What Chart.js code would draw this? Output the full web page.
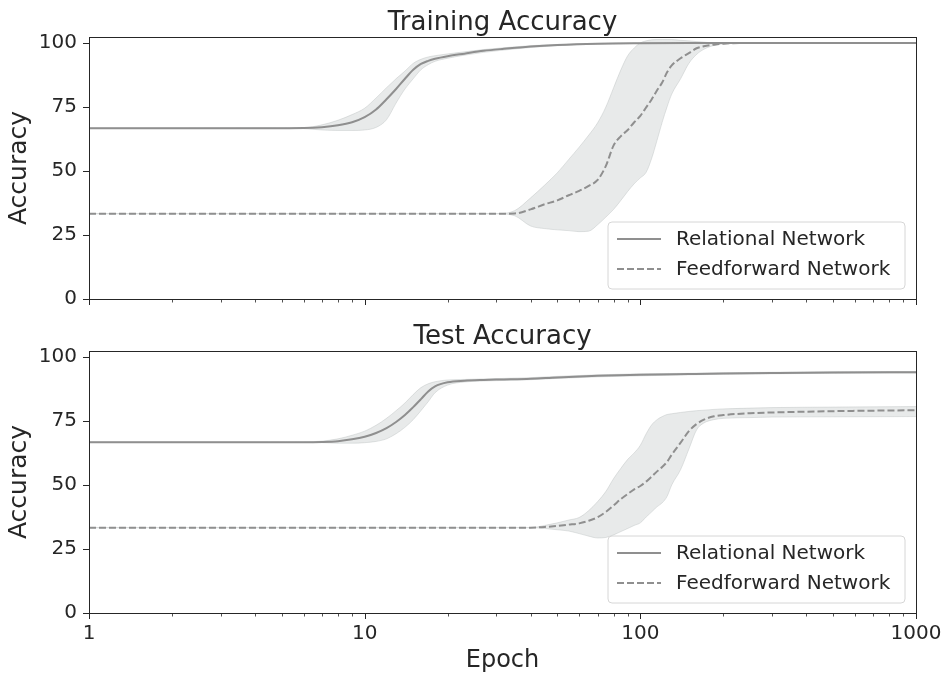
<!DOCTYPE html>
<html>
<head>
<meta charset="utf-8">
<title>Training / Test Accuracy</title>
<script src="https://cdn.jsdelivr.net/npm/chart.js@4.4.1/dist/chart.umd.min.js"></script>
<style>
  body { margin: 0; background: #fff; }
  #wrap { position: relative; width: 945px; height: 674px; }
  canvas { position: absolute; left: 0; }
  #train { top: 0; }
  #test { top: 314px; }
</style>
</head>
<body>
<div id="wrap">
  <canvas id="train" width="945" height="314"></canvas>
  <canvas id="test" width="945" height="360"></canvas>
</div>
<script>
const relEpochs = [1, 2, 4, 6, 7, 8, 9, 10, 11, 12, 13, 14, 15, 16, 17, 18, 20, 23, 27, 32, 40, 50, 70, 100, 150, 200, 300, 500, 1000];
const ffEpochs = [1, 10, 20, 30, 35, 40, 45, 50, 55, 60, 65, 70, 75, 80, 85, 90, 95, 100, 105, 110, 115, 120, 125, 130, 140, 150, 160, 170, 185, 200, 250, 300, 500, 1000];

// training accuracy
const trainRelMean = [66.7, 66.7, 66.7, 66.8, 67.1, 67.8, 69, 71, 74, 78, 82, 86, 89.5, 91.8, 93, 93.8, 94.8, 95.8, 96.9, 97.7, 98.6, 99.2, 99.7, 99.9, 100, 100, 100, 100, 100];
const trainRelLow = [66.7, 66.7, 66.7, 66.5, 66, 65.8, 65.8, 66, 67, 70, 76.5, 82, 86, 89.5, 91.5, 92.8, 94, 95.2, 96.3, 97.2, 98.2, 98.9, 99.5, 99.8, 100, 100, 100, 100, 100];
const trainRelHigh = [66.7, 66.7, 66.8, 66.9, 68, 69.8, 72, 74.5, 78.5, 82.5, 86, 89, 92, 93.6, 94.5, 95, 95.7, 96.5, 97.4, 98.1, 98.9, 99.4, 99.8, 100, 100, 100, 100, 100, 100];
const trainFfMean = [33.3, 33.3, 33.3, 33.3, 33.4, 35, 37, 38.5, 40.5, 42.2, 44.2, 46.5, 52, 60, 63.6, 66, 69, 71.5, 74.8, 78, 81.5, 84.5, 88.5, 91.2, 94, 96, 97.9, 98.7, 99.3, 99.7, 100, 100, 100, 100];
const trainFfLow = [33.3, 33.3, 33.3, 33.3, 32.5, 28.5, 27.5, 27, 26.7, 26.3, 26.5, 29, 32, 35, 38.5, 42, 45, 47.3, 49.5, 55, 62, 69, 75, 80, 86, 92, 95.5, 97.5, 99, 99.6, 100, 100, 100, 100];
const trainFfHigh = [33.3, 33.3, 33.3, 33.3, 34.5, 39.5, 44.5, 49.3, 54.5, 59.3, 64, 68.8, 75, 82.5, 89.5, 95, 98, 100, 100.8, 101.2, 101.3, 101.3, 101.3, 101.3, 101, 100.8, 100.5, 100.3, 100, 100, 100, 100, 100, 100];

// test accuracy
const testRelMean = [66.7, 66.7, 66.7, 66.7, 66.8, 67.1, 67.8, 68.8, 70.3, 72.2, 74.6, 77.3, 80.4, 83.5, 86.5, 88.5, 90.1, 90.7, 91, 91.2, 91.5, 92, 92.6, 93, 93.3, 93.5, 93.7, 93.9, 94];
const testRelLow = [66.7, 66.7, 66.7, 66.6, 66.5, 66.3, 66.3, 66.5, 67, 68, 70, 72.5, 75.5, 79, 82.5, 86, 89, 90.2, 90.6, 90.8, 91.1, 91.6, 92.2, 92.6, 93, 93.2, 93.4, 93.6, 93.7];
const testRelHigh = [66.7, 66.7, 66.7, 66.8, 67.1, 68, 69.4, 71, 73.3, 76, 79, 82, 85.3, 88, 89.5, 90.3, 91, 91.2, 91.4, 91.6, 91.9, 92.4, 93, 93.4, 93.6, 93.8, 94, 94.2, 94.3];
const testFfMean = [33.3, 33.3, 33.3, 33.3, 33.3, 33.3, 33.6, 34, 34.5, 35, 36, 37.4, 39.5, 42, 44.5, 46.5, 48.3, 49.6, 51.3, 53.3, 55.3, 57, 59, 61.8, 66.5, 71, 73.8, 75.5, 76.8, 77.3, 78, 78.3, 78.8, 79.2];
const testFfLow = [33.3, 33.3, 33.3, 33.3, 33.3, 33.3, 33, 32.5, 32, 31, 30, 29.3, 29.5, 30.5, 31.8, 33, 34.2, 35.2, 37.5, 39.5, 41.5, 43, 45.5, 50, 56, 64, 71.5, 74.2, 75.5, 76, 76.3, 76.5, 76.6, 76.7];
const testFfHigh = [33.3, 33.3, 33.3, 33.3, 33.3, 33.3, 34.2, 35.2, 36.3, 37.3, 40, 43.5, 47.5, 52.5, 56.5, 60, 62.5, 65.5, 70, 73.5, 75.5, 76.7, 77.5, 77.8, 78.3, 78.7, 79, 79.2, 79.5, 79.7, 80, 80.2, 80.4, 80.6];

const yTicks = [0, 25, 50, 75, 100];
const xMajor = [1, 10, 100, 1000];
const seriesNames = ['Relational Network', 'Feedforward Network'];

const FONT = 'DejaVu Sans';
const TEXT = '#262626';
const LINE = '#8f8f8f';
const BAND = 'rgba(190,195,195,0.35)';
const BAND_EDGE = 'rgba(175,180,180,0.45)';
const DASH = [7, 3];

function pts(xs, ys) {
  return xs.map((x, i) => ({ x: x, y: ys[i] }));
}

// all minor + major positions on the log axis
function logTickValues() {
  const out = [];
  for (let e = 0; e < 3; e++) {
    for (let s = 1; s < 10; s++) out.push(s * Math.pow(10, e));
  }
  out.push(1000);
  return out;
}

const framePlugin = {
  id: 'frame',
  afterDraw(chart, args, opts) {
    const ctx = chart.ctx;
    const a = chart.chartArea;
    ctx.save();
    ctx.strokeStyle = TEXT;
    ctx.lineWidth = 1;
    ctx.strokeRect(Math.round(a.left) + 0.5, Math.round(a.top) + 0.5, Math.round(a.right - a.left), Math.round(a.bottom - a.top));

    // tick marks
    const xs = chart.scales.x;
    logTickValues().forEach(v => {
      const px = Math.round(xs.getPixelForValue(v)) + 0.5;
      const major = xMajor.includes(v);
      ctx.lineWidth = major ? 1 : 0.8;
      ctx.beginPath();
      ctx.moveTo(px, a.bottom);
      ctx.lineTo(px, a.bottom + (major ? 6 : 3.5));
      ctx.stroke();
    });
    const ys = chart.scales.y;
    ctx.lineWidth = 1;
    yTicks.forEach(v => {
      const py = Math.round(ys.getPixelForValue(v)) + 0.5;
      ctx.beginPath();
      ctx.moveTo(a.left, py);
      ctx.lineTo(a.left - 6, py);
      ctx.stroke();
    });

    // title
    ctx.fillStyle = TEXT;
    ctx.font = '26px "' + FONT + '"';
    ctx.textAlign = 'center';
    ctx.textBaseline = 'alphabetic';
    ctx.fillText(opts.title, (a.left + a.right) / 2, a.top - 7);

    // legend box, lower right inside the axes
    const w = 297, h = 67;
    const bx = a.right - 11 - w, by = a.bottom - 10 - h, r = 4;
    ctx.beginPath();
    ctx.moveTo(bx + r, by);
    ctx.arcTo(bx + w, by, bx + w, by + h, r);
    ctx.arcTo(bx + w, by + h, bx, by + h, r);
    ctx.arcTo(bx, by + h, bx, by, r);
    ctx.arcTo(bx, by, bx + w, by, r);
    ctx.closePath();
    ctx.fillStyle = 'rgba(255,255,255,0.8)';
    ctx.fill();
    ctx.strokeStyle = '#d6d6d6';
    ctx.lineWidth = 1;
    ctx.stroke();

    ctx.font = '20px "' + FONT + '"';
    ctx.textAlign = 'left';
    ctx.textBaseline = 'middle';
    seriesNames.forEach((name, i) => {
      const ry = by + 17 + i * 30;
      ctx.strokeStyle = LINE;
      ctx.lineWidth = 2;
      ctx.setLineDash(i === 1 ? DASH : []);
      ctx.beginPath();
      ctx.moveTo(bx + 9, ry);
      ctx.lineTo(bx + 53, ry);
      ctx.stroke();
      ctx.setLineDash([]);
      ctx.fillStyle = TEXT;
      ctx.fillText(name, bx + 68, ry + 1);
    });
    ctx.restore();
  }
};

function makeChart(id, title, rel, ff, showX, xHeight) {
  return new Chart(document.getElementById(id), {
    type: 'line',
    data: {
      datasets: [
        { data: pts(relEpochs, rel[0]), borderColor: LINE, borderWidth: 2, pointRadius: 0, cubicInterpolationMode: 'monotone', fill: false },
        { data: pts(ffEpochs, ff[0]), borderColor: LINE, borderWidth: 2, borderDash: DASH, pointRadius: 0, cubicInterpolationMode: 'monotone', fill: false },
        { data: pts(relEpochs, rel[2]), borderColor: BAND_EDGE, borderWidth: 0.8, pointRadius: 0, cubicInterpolationMode: 'monotone', fill: '+1', backgroundColor: BAND },
        { data: pts(relEpochs, rel[1]), borderColor: BAND_EDGE, borderWidth: 0.8, pointRadius: 0, cubicInterpolationMode: 'monotone', fill: false },
        { data: pts(ffEpochs, ff[2]), borderColor: BAND_EDGE, borderWidth: 0.8, pointRadius: 0, cubicInterpolationMode: 'monotone', fill: '+1', backgroundColor: BAND },
        { data: pts(ffEpochs, ff[1]), borderColor: BAND_EDGE, borderWidth: 0.8, pointRadius: 0, cubicInterpolationMode: 'monotone', fill: false }
      ]
    },
    options: {
      responsive: false,
      animation: false,
      devicePixelRatio: 1,
      layout: { padding: { top: 37, right: 29, left: 0, bottom: 0 } },
      plugins: {
        legend: { display: false },
        tooltip: { enabled: false },
        frame: { title: title }
      },
      scales: {
        x: {
          type: 'logarithmic',
          min: 1,
          max: 1000,
          grid: { display: false, drawTicks: false },
          border: { display: false },
          afterBuildTicks: s => { s.ticks = xMajor.map(v => ({ value: v })); },
          afterFit: s => { s.height = xHeight; s.paddingLeft = 0; s.paddingRight = 0; },
          ticks: {
            display: showX,
            autoSkip: false,
            maxRotation: 0,
            padding: 9,
            color: TEXT,
            font: { family: FONT, size: 20 },
            callback: v => String(v)
          },
          title: {
            display: showX,
            text: 'Epoch',
            color: TEXT,
            font: { family: FONT, size: 24, lineHeight: 1.1 },
            padding: { top: 0, bottom: 0 }
          }
        },
        y: {
          min: 0,
          max: 102.3,
          grid: { display: false, drawTicks: false },
          border: { display: false },
          afterBuildTicks: s => { s.ticks = yTicks.map(v => ({ value: v })); },
          afterFit: s => { s.width = 89; s.paddingTop = 0; s.paddingBottom = 0; },
          ticks: {
            padding: 12,
            color: TEXT,
            font: { family: FONT, size: 20 }
          },
          title: {
            display: true,
            text: 'Accuracy',
            color: TEXT,
            font: { family: FONT, size: 25 },
            padding: { top: 4, bottom: 4 }
          }
        }
      }
    },
    plugins: [framePlugin]
  });
}

makeChart('train', 'Training Accuracy', [trainRelMean, trainRelLow, trainRelHigh], [trainFfMean, trainFfLow, trainFfHigh], false, 15);
makeChart('test', 'Test Accuracy', [testRelMean, testRelLow, testRelHigh], [testFfMean, testFfLow, testFfHigh], true, 61);
</script>
</body>
</html>
